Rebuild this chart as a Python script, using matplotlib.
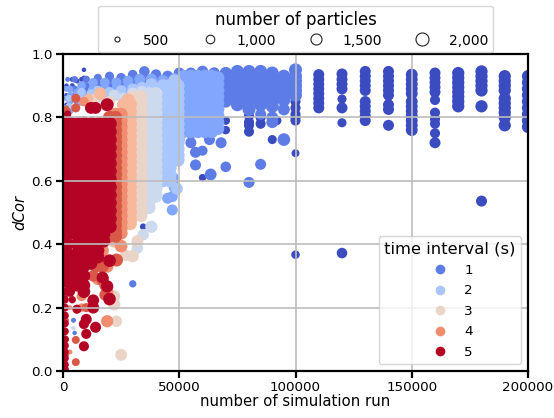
import matplotlib
matplotlib.use("Agg")
import matplotlib.pyplot as plt
from matplotlib.lines import Line2D

# each column: (simulation runs, particles, [dCor values])
t05 = [
 (1500,450,[0.87,0.84,0.90]),(4000,500,[0.92,0.89,0.90]),(6000,500,[0.915,0.885]),(8000,500,[0.90,0.875,0.92]),(9000,450,[0.95,0.925]),
 (34500,700,[0.455]),(60000,800,[0.61]),(70000,1000,[0.79,0.76]),
 (80000,1300,[0.805,0.785,0.775,0.755]),(85000,1300,[0.80,0.78]),(90000,1100,[0.73]),
 (92000,1100,[0.79]),(100000,900,[0.687]),(100000,1000,[0.367]),(100000,1300,[0.85,0.83,0.81,0.80,0.79]),
 (110000,1500,[0.935,0.92,0.905,0.89,0.875,0.86,0.845,0.83]),
 (120000,1500,[0.937,0.92,0.905,0.89,0.83]),(120000,1100,[0.858,0.783]),(120000,1400,[0.372]),
 (130000,1500,[0.945,0.93,0.915,0.90,0.885,0.85,0.835,0.82,0.805,0.79]),
 (140000,1500,[0.945,0.93,0.915,0.90,0.885,0.87,0.84,0.825,0.775]),
 (150000,1700,[0.935,0.92,0.905,0.89,0.875,0.85,0.835,0.82,0.805,0.79,0.775,0.76]),
 (160000,1500,[0.94,0.925,0.91,0.895,0.88]),(160000,1300,[0.855,0.815,0.795,0.78,0.75]),(160000,1500,[0.72]),
 (170000,1800,[0.94,0.925,0.91,0.895,0.88,0.865,0.85,0.835]),
 (180000,1800,[0.945,0.93,0.915,0.90,0.885,0.835]),(180000,1500,[0.536]),
 (190000,1800,[0.93,0.915,0.90,0.885,0.86,0.845,0.83,0.815,0.80,0.775]),
 (200000,1800,[0.93,0.91,0.89,0.87,0.85,0.83,0.81,0.79,0.77]),
]
t10 = [
 (2000,500,[0.92,0.89,0.86]),(4500,500,[0.16]),(5000,700,[0.92,0.89,0.87]),(5000,450,[0.12]),
 (10000,800,[0.92,0.90,0.88,0.86]),(15000,900,[0.925,0.905,0.885,0.87]),(20000,1100,[0.93,0.91,0.89,0.875]),
 (25000,1200,[0.925,0.905,0.885]),(30000,1200,[0.935,0.915,0.895]),(30000,800,[0.275]),(35000,1400,[0.945,0.92,0.90]),
 (40000,1400,[0.935,0.915,0.90]),(45000,1500,[0.93,0.91]),(50000,1500,[0.94,0.92]),
 (55000,1500,[0.94,0.92]),(60000,1600,[0.945,0.92]),(65000,1600,[0.94,0.92]),
 (57000,1500,[0.65,0.69]),(60000,1300,[0.695]),(63500,1700,[0.62]),(70000,1400,[0.644]),
 (68000,1500,[0.72]),(63000,1500,[0.73]),(85000,1500,[0.652,0.81]),(80000,1500,[0.595]),(95000,1900,[0.73]),
 (90000,1700,[0.80,0.785]),(95000,1700,[0.825]),(55000,1500,[0.72,0.75]),
 (70000,1800,[0.94,0.925,0.91,0.895,0.88,0.865,0.85]),(75000,2000,[0.945,0.93,0.915,0.90,0.885,0.87,0.855,0.84]),
 (80000,2000,[0.945,0.93,0.915,0.90,0.885,0.87,0.855,0.84,0.825]),(85000,2000,[0.945,0.93,0.915,0.90,0.885,0.87,0.855,0.84]),
 (90000,2000,[0.94,0.925,0.91,0.895,0.88,0.865,0.85,0.835]),(95000,2000,[0.93,0.915,0.90,0.885,0.87,0.855]),
 (100000,2000,[0.95,0.93,0.915,0.90,0.885,0.87]),
]
upper_band = [0.93,0.91,0.89,0.87,0.85,0.83,0.81,0.79,0.77,0.755]
t15 = [
 (1500,600,[0.89,0.86,0.83]),(3000,700,[0.89,0.87,0.85,0.82]),(6000,800,[0.88,0.85]),(8000,1000,[0.90,0.87,0.85]),(13000,1100,[0.91,0.89,0.87,0.85]),(18000,1200,[0.91,0.89,0.87]),
 (23000,1300,[0.91,0.89,0.87]),(28000,1400,[0.915,0.895,0.88]),(33000,1500,[0.92,0.90,0.885]),(38000,1600,[0.92,0.90]),
 (43000,1700,[0.915,0.895]),(48000,1800,[0.92,0.90]),(47000,1500,[0.508,0.55]),(45000,1500,[0.545]),
 (52000,1900,upper_band),(55000,2000,upper_band),(58000,2000,upper_band),(61000,2000,upper_band),
 (64000,2000,upper_band),(66600,2000,[0.925,0.905,0.885,0.865,0.845,0.825,0.805,0.785,0.765]),
 (50000,1500,[0.75,0.73]),(47000,1800,[0.61,0.60]),(48000,1700,[0.58]),
]
t20_band = [0.90,0.88,0.86,0.84,0.82,0.80,0.78,0.76,0.74,0.72,0.70,0.68,0.66,0.64,0.62,0.60]
t20 = [
 (2500,700,[0.86,0.835]),(8000,1000,[0.88,0.855]),(12000,1100,[0.875]),(15000,1200,[0.885,0.865]),(20000,1300,[0.88]),(25000,1400,[0.885,0.87]),(30000,1500,[0.89]),(34000,1500,[0.895]),(38000,1700,[0.905,0.89]),
 (43000,2000,t20_band),(46000,2000,t20_band),(48000,2000,[0.915]),
 (49500,2000,[0.90,0.88,0.86,0.84,0.82,0.80,0.78,0.76,0.74,0.72,0.70,0.68,0.665]),(49000,1700,[0.575]),
]
t25_band = [0.875,0.855,0.835,0.815,0.795,0.775,0.755,0.735,0.715,0.695,0.675,0.655,0.635,0.615,0.595,0.575,0.555,0.535,0.515]
t25 = [
 (4500,450,[0.135]),(37000,2000,t25_band),(40000,2000,t25_band[:-2]),
 (32000,1600,[0.388]),(34500,1600,[0.43]),(38000,1800,[0.455]),(40000,1800,[0.55]),
 (18000,1500,[0.85]),(22000,1500,[0.87]),(26000,1600,[0.86]),(30000,1800,[0.875]),(34000,1800,[0.88]),(12000,1000,[0.86]),
]
t30_band = [0.865,0.845,0.825,0.805,0.785,0.765,0.745,0.725,0.705,0.685,0.665,0.645,0.625,0.605,0.585,0.565,0.545,0.525,0.505,0.49]
t30 = [
 (25000,1700,[0.051]),(23000,1600,[0.157]),(32000,1700,[0.41]),(30000,1800,[0.362]),(27000,1600,[0.365]),
 (22000,1800,[0.235,0.21]),(30500,2000,t30_band),(33500,2000,t30_band),
 (20000,1500,[0.85]),(14000,1200,[0.86]),
]
t35_band = [0.84,0.82,0.80,0.78,0.76,0.74,0.72,0.70,0.68,0.66,0.64,0.62,0.60,0.58,0.56,0.54,0.52,0.50,0.48,0.465]
t35 = [
 (16000,1900,[0.875]),(11000,1200,[0.86]),(26000,2000,t35_band),(29000,2000,t35_band),
 (28000,2000,[0.855]),(22000,2000,[0.44,0.41]),
]
t40_band = [0.81,0.79,0.77,0.75,0.73,0.71,0.69,0.67,0.65,0.63,0.61,0.59,0.57,0.55,0.53,0.51,0.49,0.47,0.45,0.435]
t40 = [
 (19000,1800,[0.157]),(25000,1900,[0.394]),(8000,1300,[0.236]),(15000,1700,[0.29]),(19000,1900,[0.25,0.33]),
 (9000,1200,[0.85]),(22500,2000,t40_band),(25000,2000,t40_band),
 (17000,1900,[0.425,0.38]),(3000,500,[0.06,0.20,0.30]),(8000,1000,[0.20]),
]
t45_band = [0.80,0.78,0.76,0.74,0.72,0.70,0.68,0.66,0.64,0.62,0.60,0.58,0.56,0.54,0.52,0.50,0.48,0.46,0.44,0.425]
t45 = [
 (5500,900,[0.098,0.028]),(5500,1100,[0.86,0.83]),(1500,500,[0.83,0.05,0.10,0.16,0.24]),(3500,800,[0.27,0.42,0.36]),
 (23000,2000,[0.35]),(20000,2000,t45_band),(22600,2000,t45_band),
 (17000,2000,[0.33,0.29]),(13000,1600,[0.30]),(18000,1500,[0.24,0.27]),(14000,1800,[0.33]),(10000,1100,[0.20]),
 (6000,1000,[0.195]),(1500,1000,[0.82,0.80]),
]
red_band = [0.78,0.755,0.73,0.705,0.68,0.655,0.63,0.605,0.58,0.555,0.53,0.505,0.48,0.455]
t50 = [
 (19000,2000,[0.84]),(12000,1700,[0.83]),(14000,1700,[0.83]),(9000,1500,[0.785,0.78]),(2000,800,[0.81,0.79]),
 (1000,2000,red_band),(1000,1800,[0.43,0.40,0.375,0.35,0.325,0.30]),
 (800,900,[0.275,0.25,0.225,0.20,0.175,0.15,0.125,0.10,0.08,0.06,0.04,0.02,0.005]),
 (3000,1300,[0.43,0.40,0.37,0.345,0.32,0.295,0.27,0.25]),
 (6000,1800,[0.43,0.40,0.37,0.345,0.32,0.295,0.27]),
 (3500,2000,red_band),(6500,2000,red_band),(9500,2000,red_band),
 (9000,1900,[0.43,0.405,0.38,0.355,0.33,0.30,0.27,0.25]),
 (12500,2000,red_band),(12000,2000,[0.43,0.405,0.38,0.36,0.34]),
 (15500,2000,red_band),(15000,2000,[0.43,0.405,0.38,0.36]),
 (18000,2000,red_band),(17500,2000,[0.43,0.41]),
 (20300,2000,red_band),
 (20000,1900,[0.227,0.348]),(19000,1800,[0.267]),(17000,1700,[0.295]),(14000,1500,[0.138]),
 (10000,1500,[0.163]),(9000,1300,[0.148,0.078]),(10000,1300,[0.117]),(13000,1700,[0.223,0.20]),
 (6000,1100,[0.195]),(4000,800,[0.225]),
]
levels = [0.5, 1.0, 1.5, 2.0, 2.5, 3.0, 3.5, 4.0, 4.5, 5.0]
series = [t05, t10, t15, t20, t25, t30, t35, t40, t45, t50]
particle_ticks = [500, 1000, 1500, 2000]
particle_labels = ["500", "1,000", "1,500", "2,000"]
interval_ticks = [1, 2, 3, 4, 5]
x_ticks = [0, 50000, 100000, 150000, 200000]
y_ticks = [0.0, 0.2, 0.4, 0.6, 0.8, 1.0]

cmap = plt.get_cmap("coolwarm")
def colour(t): return cmap((t - 0.5) / 4.5)
def area(p): return 13 + (p - 500) * 0.05

fig = plt.figure(figsize=(5.54, 4.18), dpi=100)
ax = fig.add_axes([63/554, 1 - 371/418, 465/554, 317/418])
for t, cols in zip(levels, series):
    xs, ys, ss = [], [], []
    for x, p, vals in cols:
        for v in vals:
            xs.append(x); ys.append(v); ss.append(area(p))
    ax.scatter(xs, ys, s=ss, color=colour(t), linewidths=0)

ax.set_xlim(0, 200000); ax.set_ylim(0, 1)
ax.set_xticks(x_ticks); ax.set_yticks(y_ticks)
ax.grid(True, color="#bcbcbc", lw=1.2)
ax.tick_params(length=5, width=1.6, labelsize=9.7, pad=2.5)
for s in ax.spines.values(): s.set_linewidth(1.6)
ax.set_xlabel("number of simulation run", fontsize=10.7, labelpad=0)
ax.set_ylabel("dCor", fontsize=10.7, style="italic", labelpad=3)

h1 = [Line2D([], [], ls="", marker="o", markersize=area(p)**0.5, mfc="white", mec="#222222", mew=0.8) for p in particle_ticks]
leg1 = ax.legend(h1, particle_labels, title="number of particles", ncol=4, loc="lower center",
                 bbox_to_anchor=(0.5, 1.005), fontsize=10, title_fontsize=11.9, borderaxespad=0,
                 columnspacing=1.9, handletextpad=0.9, labelspacing=0.3, borderpad=0.35, handleheight=1.2)
ax.add_artist(leg1)
h2 = [Line2D([], [], ls="", marker="o", markersize=7, mfc=colour(t), mec="none") for t in interval_ticks]
ax.legend(h2, [str(t) for t in interval_ticks], title="time interval (s)", loc="lower right",
          bbox_to_anchor=(0.985, 0.022), fontsize=9.7, title_fontsize=11.8, borderaxespad=0,
          labelspacing=0.55, borderpad=0.4)
fig.savefig("out.png", dpi=100)
